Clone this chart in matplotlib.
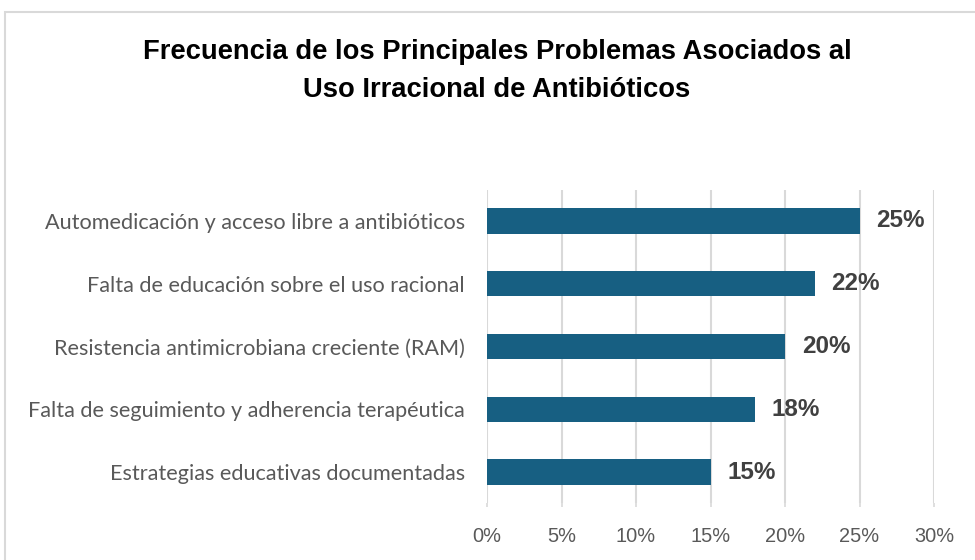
import matplotlib
matplotlib.use("Agg")
import matplotlib.pyplot as plt
from matplotlib.patches import Rectangle
from matplotlib.ticker import FuncFormatter

categories = [
    "Automedicación y acceso libre a antibióticos",
    "Falta de educación sobre el uso racional",
    "Resistencia antimicrobiana creciente (RAM)",
    "Falta de seguimiento y adherencia terapéutica",
    "Estrategias educativas documentadas",
]
values = [0.25, 0.22, 0.20, 0.18, 0.15]
xticks = [0, 0.05, 0.10, 0.15, 0.20, 0.25, 0.30]
title = "Frecuencia de los Principales Problemas Asociados al\nUso Irracional de Antibióticos"

W, H = 975, 560
fig = plt.figure(figsize=(W / 100, H / 100), dpi=100)

# chart border
fig.patches.append(Rectangle((5 / W, -0.1), 1.2, 1 - 12 / H + 0.1, transform=fig.transFigure,
                             fill=False, edgecolor="#d9d9d9", linewidth=1.5))

ax = fig.add_axes([487 / W, 1 - 503.4 / H, (934 - 487) / W, (503.4 - 189.6) / H])
ypos = list(range(len(categories)))
ax.barh(ypos, values, height=0.4, color="#175f82", zorder=3)
ax.set_ylim(len(categories) - 0.5, -0.5)
ax.set_xlim(0, 0.30)
ax.set_xticks(xticks)
ax.xaxis.set_major_formatter(FuncFormatter(lambda v, p: f"{v*100:.0f}%"))
ax.set_yticks(ypos)
ax.set_yticklabels(categories, family="Lato", fontsize=15.6, color="#595959")
ax.tick_params(axis="y", length=0, pad=16)
ax.tick_params(axis="x", length=3, width=1.2, color="#d9d9d9", pad=14,
               labelsize=14.4, labelcolor="#595959")
for lbl in ax.get_xticklabels():
    lbl.set_family("Liberation Sans")
ax.grid(axis="x", color="#d9d9d9", linewidth=1.5, zorder=0)
for s in ax.spines.values():
    s.set_visible(False)

for y, v in zip(ypos, values):
    ax.annotate(f"{v*100:.0f}%", (v, y), xytext=(12, 0), textcoords="offset points",
                va="center", ha="left", fontsize=17.5, fontweight="bold",
                color="#404040", family="Liberation Sans")

fig.text(497 / W, 1 - 71 / H, title, ha="center", va="center", fontsize=19.75,
         fontweight="bold", family="Liberation Sans",
         linespacing=1.62, color="#000000")

fig.savefig("out.png", dpi=100)
